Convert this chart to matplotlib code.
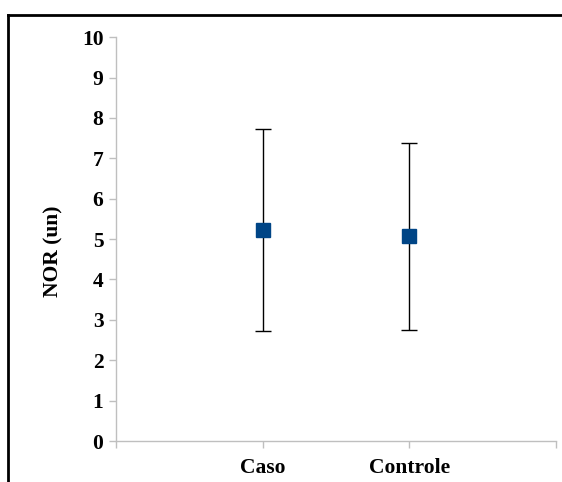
import numpy as np
import matplotlib
matplotlib.use("Agg")
import matplotlib.pyplot as plt
from matplotlib.lines import Line2D

# ===== Data =====
groups = ["Caso", "Controle"]
means = np.array([5.22, 5.07])
errs = np.array([2.50, 2.31])
y_ticks = list(range(0, 11))

plt.rcParams['font.family'] = ['Liberation Serif', 'DejaVu Serif']

# ===== Figure =====
fig = plt.figure(figsize=(5.62, 4.82), dpi=100)
ax = fig.add_axes([0.2064, 0.085, 0.7828, 0.838])

x = np.arange(1, len(groups) + 1)
ax.errorbar(x, means, yerr=errs, fmt='none', ecolor='black',
            elinewidth=1.0, capsize=5.5, capthick=1.0, zorder=2)
ax.plot(x, means, 's', color='#004586', markersize=10, zorder=3)

ax.set_xlim(0, 3)
ax.set_ylim(0, 10)
ax.set_yticks(y_ticks)
ax.set_xticks([0, 1, 2, 3])
ax.set_xticklabels(["", groups[0], groups[1], ""])

gray = '#bfbfbf'
for s in ['top', 'right']:
    ax.spines[s].set_visible(False)
for s in ['left', 'bottom']:
    ax.spines[s].set_color(gray)
    ax.spines[s].set_linewidth(1.0)
ax.tick_params(axis='both', colors=gray, length=5, width=1.0,
               labelcolor='black', labelsize=15.5)
ax.tick_params(axis='x', pad=7)
ax.tick_params(axis='y', pad=4)
for lbl in ax.get_xticklabels() + ax.get_yticklabels():
    lbl.set_fontweight('bold')

ax.set_ylabel("NOR (un)", fontsize=15.5, fontweight='bold')
ax.yaxis.set_label_coords(-0.12, 0.47)

# outer frame
fig.add_artist(Line2D([0.0142, 0.0142], [0.969, 0.0], transform=fig.transFigure,
                      color='black', linewidth=2))
fig.add_artist(Line2D([0.0142, 1.0], [0.969, 0.969], transform=fig.transFigure,
                      color='black', linewidth=2))

fig.savefig("out.png", dpi=100)
